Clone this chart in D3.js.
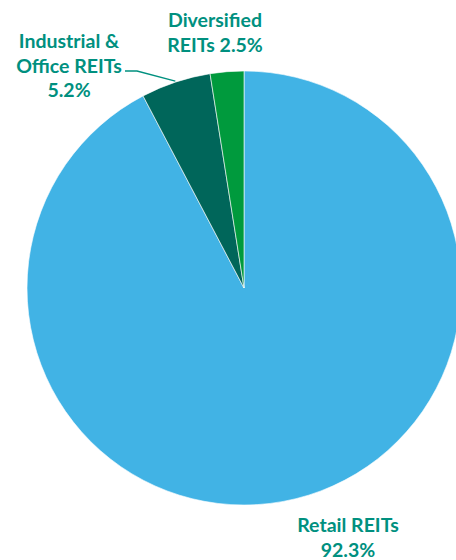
<!DOCTYPE html>
<html><head><meta charset="utf-8">
<script src="https://cdn.jsdelivr.net/npm/d3@7"></script>
<style>html,body{margin:0;padding:0;background:#fff;overflow:hidden}</style>
</head><body>
<svg id="chart" width="456" height="560"></svg>
<script>
const categories = ["Retail REITs", "Industrial & Office REITs", "Diversified REITs"];
const values = [92.3, 5.2, 2.5];
const colors = ["#41B3E5", "#00665A", "#009A3D"];
const labelLines = [["Retail REITs", "92.3%"], ["Industrial &", "Office REITs", "5.2%"], ["Diversified", "REITs 2.5%"]];

const svg = d3.select("#chart");
const cx = 244, cy = 288, R = 217;
const data = categories.map((c, i) => ({name: c, value: values[i], color: colors[i], lines: labelLines[i]}));
const pie = d3.pie().value(d => d.value).sort(null);
const arc = d3.arc().innerRadius(0).outerRadius(R);
const arcs = pie(data);
const g = svg.append("g").attr("transform", `translate(${cx},${cy})`);
g.selectAll("path").data(arcs).join("path")
  .attr("d", arc).attr("fill", d => d.data.color)
  .attr("stroke", "#fff").attr("stroke-width", 0.6);

const labelPos = [{x: 348, y: 532}, {x: 69, y: 48}, {x: 215, y: 27}];
const lh = 24.5;
const textColor = "#00907F";
arcs.forEach((a, i) => {
  const p = labelPos[i];
  const t = svg.append("text").attr("text-anchor", "middle")
    .attr("font-family", "Lato, 'Open Sans', sans-serif").attr("font-weight", 700)
    .attr("font-size", 19.5).attr("fill", textColor);
  a.data.lines.forEach((ln, j) => {
    t.append("tspan").attr("x", p.x).attr("y", p.y + j * lh).text(ln);
  });
});
const ia = arcs[1];
const mid = (ia.startAngle + ia.endAngle) / 2;
const end = [cx + Math.sin(mid) * (R + 1), cy - Math.cos(mid) * (R + 1)];
svg.append("path")
  .attr("d", d3.line()([[125, 71], [137, 71], end]))
  .attr("fill", "none").attr("stroke", textColor).attr("stroke-width", 1.3);
</script>
</body></html>
